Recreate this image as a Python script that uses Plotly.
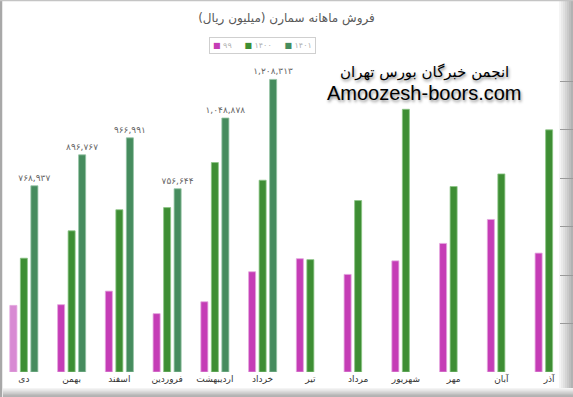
import plotly.graph_objects as go

months = ["دی", "بهمن", "اسفند", "فروردین", "اردیبهشت", "خرداد",
          "تیر", "مرداد", "شهریور", "مهر", "آبان", "آذر"]
series_names = ["۹۹", "۱۴۰۰", "۱۴۰۱"]
sales_99 = [275000, 278000, 334000, 241000, 290000, 414000,
            468000, 403000, 459000, 531000, 630000, 491000]
sales_1400 = [470000, 583000, 670000, 679000, 865000, 792000,
              464000, 708000, 1085000, 766000, 818000, 1000000]
sales_1401 = [768937, 896767, 966991, 756644, 1048878, 1208313,
              None, None, None, None, None, None]

title_text = "فروش ماهانه سمارن (میلیون ریال)"
watermark_1 = "انجمن خبرگان بورس تهران"
watermark_2 = "Amoozesh-boors.com"

PERSIAN = str.maketrans("0123456789", "۰۱۲۳۴۵۶۷۸۹")


def fa(v):
    return "" if v is None else f"{v:,}".translate(PERSIAN)


pink = "#C53DB6"
green = "#3E8E34"
dark = "#468C5E"
colors = [pink, green, dark]

W, H = 573, 397
T, B = 33, 25
PH = H - T - B


def py(p):
    """pixel row -> paper y"""
    return (H - B - p) / PH


def px(p):
    return p / W


fig = go.Figure()
fig.add_trace(go.Bar(
    x=months, y=sales_99, name=series_names[0],
    marker=dict(color=["#D88AD3"] + [pink] * 11,
                line=dict(color="#E3A6DE", width=0.8)),
))
fig.add_trace(go.Bar(
    x=months, y=sales_1400, name=series_names[1],
    marker=dict(color=green, line=dict(color="#8CC585", width=0.8)),
))
fig.add_trace(go.Bar(
    x=months, y=sales_1401, name=series_names[2],
    marker=dict(color=dark, line=dict(color="#93C3A3", width=0.8)),
    text=[fa(v) for v in sales_1401], textposition="outside",
    constraintext="none",
    textfont=dict(size=9, color="#666666", family="DejaVu Sans"),
    cliponaxis=False,
))

shapes = []
grays = ["#F4F4F4", "#EAEAEA", "#E0E0E0", "#D5D5D5", "#CACACA", "#BEBEBE", "#B2B2B2"]
# right shadow gradient
for i, c in enumerate(grays):
    shapes.append(dict(type="rect", xref="paper", yref="paper",
                       x0=px(559 + i * 2), x1=1, y0=py(H), y1=py(0),
                       line=dict(width=0), fillcolor=c, layer="below"))
# bottom shadow gradient
for i, c in enumerate(grays):
    shapes.append(dict(type="rect", xref="paper", yref="paper",
                       x0=px(3), x1=1, y0=py(H), y1=py(388 + i * 1.2),
                       line=dict(width=0), fillcolor=c, layer="below"))
# left / top thin frame
shapes.append(dict(type="line", xref="paper", yref="paper", x0=px(1), x1=px(1),
                   y0=py(H), y1=py(0), line=dict(color="#A8A8A8", width=2.5),
                   layer="above"))
shapes.append(dict(type="line", xref="paper", yref="paper", x0=0, x1=1,
                   y0=py(0.5), y1=py(0.5), line=dict(color="#C4C4C4", width=1.5),
                   layer="above"))

legend_text = "&nbsp;&nbsp;&nbsp;&nbsp;&nbsp;".join(
    f"<span style='color:{c}'>■</span>&nbsp;{n}" for c, n in zip(colors, series_names))

fig.update_layout(
    width=W, height=H,
    paper_bgcolor="white", plot_bgcolor="rgba(0,0,0,0)",
    margin=dict(l=0, r=0, t=T, b=B, autoexpand=False),
    barmode="group", bargap=0.34, bargroupgap=0.33,
    showlegend=False,
    title=dict(text=title_text, x=0.5, xanchor="center", y=1 - 18 / H,
               yanchor="middle",
               font=dict(size=12, color="#595959", family="DejaVu Sans")),
    xaxis=dict(showgrid=False, zeroline=False, showline=False, ticks="",
               range=[-0.5, 11.5],
               tickfont=dict(size=9, color="#333333", family="DejaVu Sans")),
    yaxis=dict(range=[0, 1400000], dtick=200000, showgrid=False, zeroline=False,
               showticklabels=False, side="right", ticks="inside", ticklen=13,
               tickcolor="#9A9A9A", showline=False),
    shapes=shapes,
    annotations=[
        dict(text=legend_text, xref="paper", yref="paper", x=px(262), y=py(46),
             showarrow=False, xanchor="center", yanchor="middle",
             bordercolor="#CFCFCF", borderwidth=1, borderpad=3, bgcolor="white",
             font=dict(size=8, color="#B0B0B0", family="DejaVu Sans")),
        dict(text=watermark_1, xref="paper", yref="paper", x=px(424), y=py(72),
             showarrow=False, xanchor="center", yanchor="middle",
             font=dict(size=15, color="black", family="DejaVu Sans",
                       shadow="1px 2px 3px #8A8A8A")),
        dict(text=watermark_2, xref="paper", yref="paper", x=px(424), y=py(93),
             showarrow=False, xanchor="center", yanchor="middle",
             font=dict(size=20, color="black", family="Liberation Sans",
                       shadow="1px 2px 3px #8A8A8A")),
    ],
)

fig.write_html("out.html", config={"displayModeBar": False},
               post_script="document.body.style.margin='0';")
